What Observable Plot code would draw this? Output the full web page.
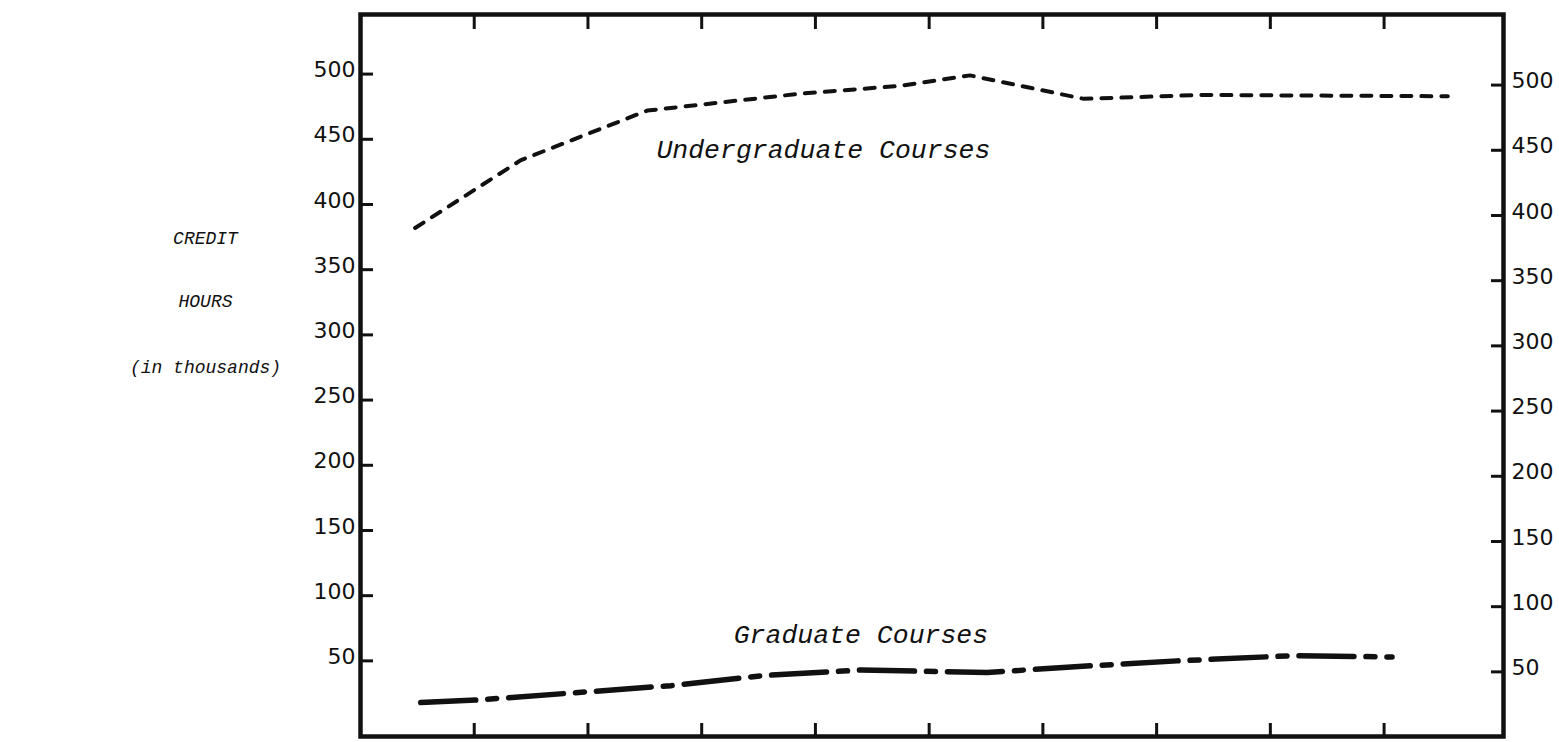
<!DOCTYPE html>
<html><head><meta charset="utf-8">
<script src="https://cdn.jsdelivr.net/npm/d3@7"></script>
<script src="https://cdn.jsdelivr.net/npm/@observablehq/plot@0.6"></script>
<style>html,body{margin:0;padding:0;background:#fff} svg{display:block}</style>
</head><body><div id="chart"></div>
<script>
// Tick values
const yTicks = [50, 100, 150, 200, 250, 300, 350, 400, 450, 500];
const xTicks = [1, 2, 3, 4, 5, 6, 7, 8, 9];
// Undergraduate courses credit hours (thousands), x = year position
const undergradX = [0.48, 1.41, 2.52, 3.87, 4.75, 5.36, 6.36, 7.38, 9.56];
const undergradY = [382, 434, 472, 485, 491, 499, 481, 484, 483];
// Graduate courses credit hours (thousands)
const gradX = [0.53, 1.03, 2.73, 3.58, 4.40, 5.51, 6.18, 7.18, 8.20, 9.07];
const gradY = [18, 20, 31, 39, 43, 41, 45, 50, 54, 53];
// Series labels
const seriesNames = ["Undergraduate Courses", "Graduate Courses"];
const seriesLabelX = [4.07, 4.40];
const seriesLabelY = [436, 63.5];
// Left axis title lines
const titleLines = ["CREDIT", "HOURS", "(in thousands)"];
const titleLineY = [370, 321, 271];

const undergrad = undergradX.map((x, i) => ({x, y: undergradY[i]}));
const grad = gradX.map((x, i) => ({x, y: gradY[i]}));
const labels = seriesNames.map((name, i) => ({name, x: seriesLabelX[i], y: seriesLabelY[i]}));
const titles = titleLines.map((t, i) => ({t, y: titleLineY[i]}));

const italicFont = "Liberation Mono";

const chart = Plot.plot({
  width: 1559,
  height: 742,
  marginLeft: 360,
  marginRight: 56,
  marginTop: 14,
  marginBottom: 6,
  style: {fontFamily: "DejaVu Sans", background: "#fff", color: "#111"},
  x: {domain: [0, 10.05], axis: null},
  y: {domain: [-8, 545.7], axis: null},
  marks: [
    Plot.frame({stroke: "#111", strokeWidth: 4.5}),
    // x ticks (top, pointing down; bottom, pointing up)
    Plot.axisX({ticks: xTicks, anchor: "top", tickSize: 14, dy: 14, strokeWidth: 3, tickFormat: () => "", label: null}),
    Plot.axisX({ticks: xTicks, anchor: "bottom", tickSize: 13, dy: -13, strokeWidth: 3, tickFormat: () => "", label: null}),
    // left y axis: inward ticks + labels
    Plot.axisY({ticks: yTicks, anchor: "left", tickSize: 13, dx: 13, strokeWidth: 3, tickFormat: () => "", label: null}),
    Plot.axisY({ticks: yTicks, anchor: "left", tickSize: 0, tickPadding: 5, dy: -4, fontSize: 22, label: null}),
    // right y axis: inward ticks + labels (scan is slightly skewed)
    Plot.axisY({ticks: yTicks, anchor: "right", tickSize: 13, dx: -13, dy: 11, strokeWidth: 3, tickFormat: () => "", label: null}),
    Plot.axisY({ticks: yTicks, anchor: "right", tickSize: 0, tickPadding: 8, dy: 7, fontSize: 22, label: null}),
    // series
    Plot.line(undergrad, {x: "x", y: "y", stroke: "#111", strokeWidth: 4, strokeDasharray: "10,10", strokeLinecap: "round"}),
    Plot.line(grad, {x: "x", y: "y", stroke: "#111", strokeWidth: 5.5, strokeDasharray: "55,12,9,12", strokeLinecap: "round"}),
    Plot.text(labels, {x: "x", y: "y", text: "name", textAnchor: "middle", lineAnchor: "bottom", fontFamily: italicFont, fontStyle: "italic", fontSize: 26.5, fill: "#111"}),
    // left title
    Plot.text(titles, {frameAnchor: "left", y: "y", text: "t", textAnchor: "middle", lineAnchor: "bottom", dx: -155, fontFamily: italicFont, fontStyle: "italic", fontSize: 18, fill: "#111"})
  ]
});
document.getElementById("chart").appendChild(chart);
</script>
</body></html>
